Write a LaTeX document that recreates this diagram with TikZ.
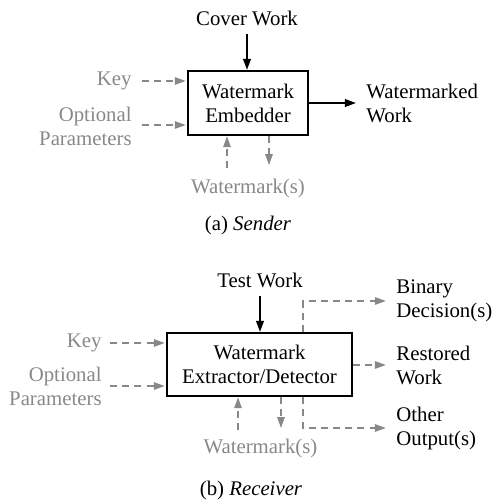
\documentclass[tikz,border=0pt]{standalone}
\usepackage{fontspec}
\setmainfont{Liberation Serif}
\usetikzlibrary{arrows.meta}
\definecolor{gr}{RGB}{136,136,136}
\begin{document}
\begin{tikzpicture}[x=0.5pt,y=-0.5pt,
  font=\fontsize{10.4}{12}\selectfont,
  every node/.style={inner sep=0pt},
  box/.style={draw, line width=1.1pt, align=center},
  lbl/.style={text=black},
  glbl/.style={text=gr},
  sarrow/.style={draw=black, line width=0.9pt, -{Triangle[length=5.5pt,width=3.8pt]}},
  garrow/.style={draw=gr, line width=1pt, dash pattern=on 3.5pt off 2.6pt, -{Triangle[length=5.5pt,width=3.6pt]}},
  gline/.style={draw=gr, line width=1pt, dash pattern=on 3.5pt off 2.6pt}]
\useasboundingbox (0,0) rectangle (496,500);

% ---------- (a) Sender ----------
\node[box, minimum width=60pt, minimum height=32pt] (boxa) at (248,103) {Watermark\\Embedder};
\node[lbl] (cover) at (247,18) {Cover Work};
\node[glbl, anchor=east] (keya) at (132,81) {Key};
\node[glbl, anchor=east, align=right] (opta) at (132,126) {Optional\\Parameters};
\node[lbl, anchor=west, align=left] (wmw) at (366,103) {Watermarked\\Work};
\node[glbl] (wmsa) at (248,188) {Watermark(s)};
\node[lbl] (capa) at (248,225) {(a) \textit{Sender}};
\coordinate (upa) at (227,0);
\coordinate (dna) at (269,0);

\draw[sarrow, shorten <=4pt] (cover.south) -- (cover.south |- boxa.north);
\draw[garrow, shorten <=5pt, shorten >=0.5pt] (keya.east) -- (keya.east -| boxa.west);
\draw[garrow, shorten <=5pt, shorten >=0.5pt] ([yshift=0.5pt]opta.east) -- ([yshift=0.5pt]opta.east -| boxa.west);
\draw[sarrow, shorten >=5pt] (boxa.east) -- (wmw.west);
\draw[garrow, shorten <=5pt] (wmsa.north -| upa) -- (upa |- boxa.south);
\draw[garrow, shorten >=6.5pt] (dna |- boxa.south) -- (wmsa.north -| dna);

% ---------- (b) Receiver ----------
\node[box, minimum width=92.5pt, minimum height=31.5pt] (boxb) at (259.5,364.5) {Watermark\\Extractor/Detector};
\node[lbl] (test) at (260,280) {Test Work};
\node[glbl, anchor=east] (keyb) at (102,343) {Key};
\node[glbl, anchor=east, align=right] (optb) at (102,386) {Optional\\Parameters};
\node[lbl, anchor=west, align=left] (bin) at (396,301) {Binary\\Decision(s)};
\node[lbl, anchor=west, align=left] (rest) at (396,365) {Restored\\Work};
\node[lbl, anchor=west, align=left] (oth) at (396,428) {Other\\Output(s)};
\node[glbl] (wmsb) at (260.5,448) {Watermark(s)};
\node[lbl] (capb) at (251,490) {(b) \textit{Receiver}};
\coordinate (upb) at (238,0);
\coordinate (dnb) at (281,0);
\coordinate (sp) at (303,0);

\draw[sarrow, shorten <=4pt] (test.south) -- (test.south |- boxb.north);
\draw[garrow, shorten <=4pt, shorten >=0.5pt] (keyb.east) -- (keyb.east -| boxb.west);
\draw[garrow, shorten <=4pt, shorten >=0.5pt] (optb.east) -- (optb.east -| boxb.west);
\draw[garrow, shorten >=5pt] (sp |- boxb.north) -- (sp |- bin.west) -- (bin.west);
\draw[garrow, shorten >=5pt] (boxb.east |- rest.west) -- (rest.west);
\draw[garrow, shorten >=5pt] (sp |- boxb.south) -- (sp |- oth.west) -- (oth.west);
\draw[garrow, shorten <=4pt] (wmsb.north -| upb) -- (upb |- boxb.south);
\draw[garrow, shorten >=5pt] (dnb |- boxb.south) -- (wmsb.north -| dnb);
\end{tikzpicture}
\end{document}
